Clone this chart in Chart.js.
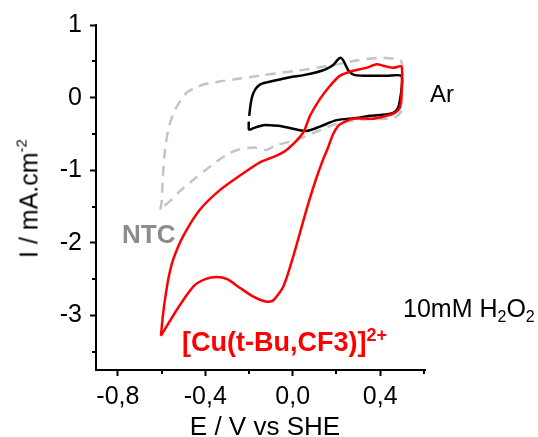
<!DOCTYPE html>
<html><head><meta charset="utf-8">
<script src="https://cdn.jsdelivr.net/npm/chart.js@4/dist/chart.umd.min.js"></script>
<style>
html,body{margin:0;padding:0;background:#fff;}
#wrap{position:relative;width:538px;height:437px;font-family:"Liberation Sans",Arial,sans-serif;color:#000;overflow:hidden;}
canvas{position:absolute;left:0;top:0;}
.lbl{position:absolute;white-space:nowrap;line-height:1;}
.sub{font-size:16px;position:relative;top:5px;}
</style></head><body>
<div id="wrap">
<canvas id="c" width="538" height="437"></canvas>
<div class="lbl" style="left:430px;top:82px;font-size:24px;">Ar</div>
<div class="lbl" style="left:122px;top:221px;font-size:26px;font-weight:bold;color:#8c8c8c;">NTC</div>
<div class="lbl" style="left:182px;top:329px;font-size:27px;font-weight:bold;color:#ff0000;">[Cu(t-Bu,CF3)]<span style="font-size:18px;position:relative;top:-10px;">2+</span></div>
<div class="lbl" style="left:403px;top:296px;font-size:25px;">10mM H<span class="sub">2</span>O<span class="sub">2</span></div>
<div class="lbl" style="left:115px;width:300px;text-align:center;top:413px;font-size:26px;">E / V vs SHE</div>
<div class="lbl" style="left:-71px;top:186px;width:200px;text-align:center;font-size:25px;transform:rotate(-90deg);">I / mA.cm<span style="font-size:15px;position:relative;top:-11px;">-2</span></div>
</div>
<script>
// Ar (black) loop
const arE = [-0.199,-0.193,-0.185,-0.170,-0.150,-0.119,-0.060,-0.013,0.050,0.109,0.150,0.185,0.205,0.218,0.230,0.243,0.258,0.284,0.368,0.430,0.497,0.497,0.492,0.482,0.459,0.398,0.352,0.292,0.200,0.124,0.063,0.018,-0.058,-0.104,-0.135,-0.180,-0.200,-0.201];
const arI = [-0.25,-0.10,0.02,0.12,0.18,0.21,0.25,0.28,0.31,0.35,0.39,0.45,0.52,0.55,0.52,0.44,0.36,0.31,0.30,0.30,0.30,0.10,0.00,-0.14,-0.21,-0.24,-0.25,-0.28,-0.31,-0.40,-0.46,-0.44,-0.39,-0.38,-0.38,-0.42,-0.44,-0.33];
// NTC (grey dashed) loop
const ntcE = [-0.606,-0.600,-0.594,-0.584,-0.570,-0.556,-0.530,-0.485,-0.440,-0.409,-0.340,-0.272,-0.135,0.018,0.170,0.292,0.398,0.470,0.497,0.500,0.500,0.498,0.459,0.322,0.200,0.100,0.018,-0.080,-0.119,-0.165,-0.195,-0.241,-0.287,-0.348,-0.400,-0.454,-0.510,-0.553,-0.606];
const ntcI = [-1.54,-1.45,-1.08,-0.71,-0.45,-0.30,-0.12,0.07,0.14,0.18,0.22,0.25,0.31,0.37,0.44,0.51,0.55,0.53,0.50,0.30,0.00,-0.18,-0.28,-0.30,-0.36,-0.48,-0.58,-0.66,-0.72,-0.69,-0.69,-0.71,-0.76,-0.88,-1.00,-1.13,-1.27,-1.40,-1.54];
// [Cu(t-Bu,CF3)]2+ (red) loop
const cuE = [-0.603,-0.594,-0.583,-0.566,-0.546,-0.500,-0.424,-0.332,-0.226,-0.150,-0.074,-0.020,0.048,0.079,0.124,0.170,0.215,0.276,0.337,0.383,0.413,0.459,0.497,0.500,0.497,0.490,0.467,0.429,0.368,0.276,0.215,0.185,0.160,0.139,0.109,0.079,0.048,0.002,-0.043,-0.089,-0.119,-0.180,-0.241,-0.300,-0.347,-0.400,-0.454,-0.530,-0.603];
const cuI = [-3.28,-3.00,-2.75,-2.45,-2.22,-1.90,-1.54,-1.27,-1.04,-0.89,-0.80,-0.70,-0.48,-0.25,-0.02,0.16,0.30,0.37,0.41,0.46,0.44,0.41,0.43,0.25,0.02,-0.14,-0.21,-0.25,-0.29,-0.29,-0.37,-0.50,-0.70,-0.85,-1.10,-1.38,-1.70,-2.19,-2.60,-2.79,-2.81,-2.74,-2.62,-2.50,-2.47,-2.50,-2.60,-2.92,-3.28];
// ticks
const xMajor = [-0.8,-0.4,0.0,0.4];
const xTickLabels = ['-0,8','-0,4','0,0','0,4'];
const xMinor = [-0.6,-0.2,0.2,0.6];
const yMajor = [-3,-2,-1,0,1];
const yTickLabels = ['-3','-2','-1','0','1'];
const yMinor = [-3.5,-2.5,-1.5,-0.5,0.5];

const pts = (xs, ys) => xs.map((x, i) => ({x: x, y: ys[i]}));
const FONT = '"Liberation Sans", Arial, sans-serif';

const minorTicks = {
  id: 'minorTicks',
  afterDraw(chart) {
    const ctx = chart.ctx, xs = chart.scales.x, ys = chart.scales.y;
    ctx.save();
    ctx.strokeStyle = '#000';
    ctx.lineWidth = 2;
    xMinor.forEach(v => {
      const p = Math.round(xs.getPixelForValue(v));
      ctx.beginPath(); ctx.moveTo(p, ys.bottom); ctx.lineTo(p, ys.bottom + 4); ctx.stroke();
    });
    yMinor.forEach(v => {
      const p = Math.round(ys.getPixelForValue(v));
      ctx.beginPath(); ctx.moveTo(xs.left, p); ctx.lineTo(xs.left - 4, p); ctx.stroke();
    });
    ctx.restore();
  }
};

new Chart(document.getElementById('c'), {
  type: 'scatter',
  data: {
    datasets: [
      {label: 'Cu', data: pts(cuE, cuI), showLine: true, borderColor: '#ff0000', borderWidth: 2.5, pointRadius: 0, tension: 0.25, fill: false},
      {label: 'Ar', data: pts(arE, arI), showLine: true, borderColor: '#000000', borderWidth: 2.5, pointRadius: 0, tension: 0.25, fill: false},
      {label: 'NTC', data: pts(ntcE, ntcI), showLine: true, borderColor: '#c4c4c4', borderWidth: 2.5, borderDash: [10, 7], pointRadius: 0, tension: 0.25, fill: false}
    ]
  },
  options: {
    responsive: false,
    animation: false,
    devicePixelRatio: 1,
    layout: {padding: {left: 0, right: 113, top: 25, bottom: 0}},
    plugins: {legend: {display: false}, tooltip: {enabled: false}},
    scales: {
      x: {
        type: 'linear', min: -0.9, max: 0.605,
        afterFit(s) { s.height = 67; },
        afterBuildTicks(s) { s.ticks = xMajor.map(v => ({value: v})); },
        border: {display: true, color: '#000', width: 2},
        grid: {display: true, drawOnChartArea: false, drawTicks: true, tickLength: 6, tickColor: '#000', tickWidth: 2},
        ticks: {
          color: '#000', font: {family: FONT, size: 25}, padding: 6, maxRotation: 0,
          callback(v) { const i = xMajor.findIndex(m => Math.abs(m - v) < 1e-6); return i >= 0 ? xTickLabels[i] : ''; }
        }
      },
      y: {
        type: 'linear', min: -3.75, max: 1,
        afterFit(s) { s.width = 96; },
        afterBuildTicks(s) { s.ticks = yMajor.map(v => ({value: v})); },
        border: {display: true, color: '#000', width: 2},
        grid: {display: true, drawOnChartArea: false, drawTicks: true, tickLength: 6, tickColor: '#000', tickWidth: 2},
        ticks: {
          color: '#000', font: {family: FONT, size: 25}, padding: 8,
          callback(v) { const i = yMajor.findIndex(m => Math.abs(m - v) < 1e-6); return i >= 0 ? yTickLabels[i] : ''; }
        }
      }
    }
  },
  plugins: [minorTicks]
});
</script>
</body></html>
